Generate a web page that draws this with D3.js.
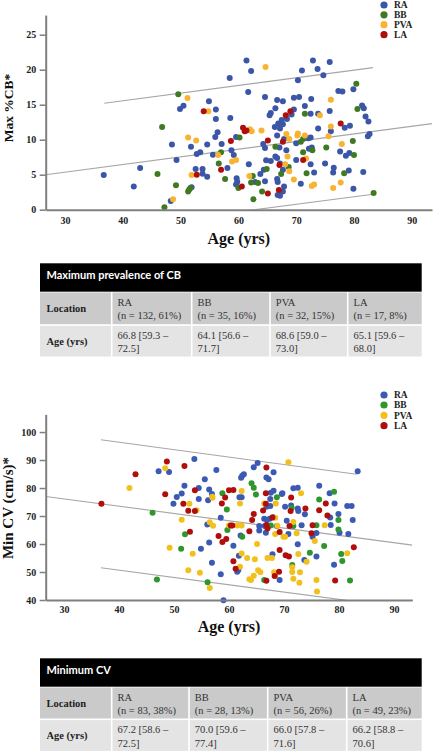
<!DOCTYPE html>
<html><head><meta charset="utf-8">
<script src="https://cdn.jsdelivr.net/npm/d3@7"></script>
<style>
html,body{margin:0;padding:0;background:#fff;}
svg{display:block;}
</style></head>
<body>
<svg id="c" width="433" height="753"></svg>
<script>
// ---------- DATA ----------
const seriesNames = ["RA", "BB", "PVA", "LA"];
const ageTicks = [30, 40, 50, 60, 70, 80, 90];
const cbTicks = [0, 5, 10, 15, 20, 25];
const cvTicks = [40, 50, 60, 70, 80, 90, 100];

// Max %CB* vs age  [age, value]
const cbRA = [[36.7,4.96],[41.9,3.3],[43.0,5.96],[48.3,1.24],[48.5,9.3],[49.3,7.1],[49.9,14.4],[50.5,14.86],[51.8,9.0],[51.9,3.2],[54.9,15.5],[56.1,14.3],[56.1,12.96],[56.4,11.06],[56.0,10.4],[54.6,9.3],[53.4,8.2],[52.8,7.96],[55.6,7.86],[52.6,5.8],[53.8,5.8],[53.8,5.14],[54.6,4.7],
[61.4,21.3],[62.2,19.8],[58.5,18.8],[61.7,16.8],[64.6,16.1],[66.7,15.67],[67.7,15.5],[66.4,14.5],[65.6,13.8],[65.4,13.5],[58.6,13.1],[67.5,12.8],[66.9,12.3],[66.3,11.8],[67.2,11.6],[67.7,12.2],[59.6,10.4],[57.1,9.4],[58.8,8.5],[64.3,9.4],[64.6,8.8],[66.7,10.6],[67.9,10.1],[59.2,7.8],[61.8,6.5],[58.1,5.96],[64.8,7.05],[65.6,6.96],[64.4,5.7],[63.8,5.1],[62.9,3.96],[64.6,4.05],[66.7,4.4],[66.8,3.96],[67.2,6.6],[66.4,7.6],[66.7,7.4],[59.7,4.5],[59.8,4.0],[59.6,3.6],[67.2,2.0],[67.7,2.6],
[72.9,21.3],[75.8,21.1],[71.0,19.9],[74.7,19.2],[70.3,18.5],[79.9,17.2],[77.3,16.96],[78.0,16.9],[69.6,16.0],[70.5,16.1],[72.6,15.8],[81.4,14.9],[81.7,14.5],[71.5,14.8],[72.5,13.7],[73.8,13.7],[75.8,14.1],[82.0,13.3],[82.5,12.6],[69.2,13.6],[69.6,14.3],[79.3,12.0],[78.4,11.7],[73.8,11.6],[76.0,11.2],[82.7,10.8],[82.4,10.5],[72.5,10.3],[72.1,10.2],[70.0,9.5],[72.7,8.9],[72.2,8.7],[77.6,8.3],[79.2,8.1],[78.6,7.7],[68.3,8.5],[70.0,7.1],[72.5,6.5],[75.0,6.6],[76.5,6.0],[73.1,5.3],[76.4,5.3],[79.1,5.6],[81.6,5.4],[70.8,3.7],[79.9,3.0],[73.7,20.1],
[67.1,8.9],[67.7,5.7],[67.9,3.3],[66.8,2.1],[68.4,12.96]];
const cbBB = [[49.6,16.5],[46.8,11.8],[46.0,5.1],[49.2,3.5],[51.3,2.6],[51.5,2.9],[51.7,3.1],[47.2,0.34],[56.6,6.6],[60.2,10.3],[57.0,8.2],[66.4,9.0],[64.9,5.8],[62.5,4.8],[63.4,3.8],[57.7,4.4],[60.0,3.1],[64.1,2.6],[62.6,1.5],[80.4,18.0],[80.6,14.4],[71.5,13.7],[71.2,10.1],[70.8,9.7],[79.8,9.8],[75.2,8.9],[72.8,8.5],[71.2,8.2],[80.0,7.8],[68.7,6.1],[67.4,5.1],[71.8,5.2],[78.3,5.2],[83.4,2.4],[62.2,3.9]];
const cbPVA = [[51.2,15.96],[51.3,10.3],[52.7,9.9],[48.7,1.5],[54.8,14.05],[56.5,7.8],[51.9,4.96],[64.7,20.4],[62.0,11.5],[62.3,11.2],[64.0,11.3],[58.9,6.9],[59.6,7.1],[61.9,4.8],[76.0,15.7],[74.1,13.5],[76.0,11.9],[68.3,10.8],[70.3,10.9],[70.2,10.6],[71.5,10.6],[68.8,10.1],[75.6,10.5],[77.9,9.4],[68.5,7.6],[71.7,7.3],[68.1,6.5],[68.8,5.5],[69.6,4.3],[72.7,3.4],[73.1,3.6],[77.7,3.9],[76.4,3.1]];
const cbLA = [[54.0,14.05],[52.8,5.0],[57.0,5.7],[60.8,11.7],[61.1,11.2],[61.4,11.3],[65.1,9.9],[68.2,13.5],[69.0,14.05],[67.1,6.4],[60.6,3.3],[65.1,2.3],[77.7,12.3],[71.2,7.1],[67.7,9.7],[67.0,2.8],[58.7,9.8]];
// regression line and prediction bounds [age, value] end points
const cbFitLines = [[[36.8,15.2],[83.3,20.3]], [[26.66,5.0],[93.5,12.3]], [[36.8,-2.8],[83.3,2.2]]];

// Min CV vs age
const cvRA = [[47.2,86.0],[49.1,85.7],[49.9,74.4],[50.5,76.8],[51.4,78.0],[51.9,80.8],[53.7,90.4],[54.5,80.0],[55.6,83.1],[54.5,76.1],[54.9,58.3],[56.4,79.5],[56.2,75.6],[56.9,77.9],[57.7,86.4],[56.05,67.0],[56.4,60.5],[56.9,53.3],[65.2,88.9],[64.5,87.4],[62.7,84.9],[62.4,84.4],[62.2,83.7],[68.1,85.6],[66.8,83.8],[67.2,83.1],[61.9,76.7],[62.3,76.7],[67.6,78.3],[68.1,79.0],[67.5,76.1],[66.8,73.3],[67.5,73.6],[66.4,69.0],[66.9,68.6],[67.4,69.0],[68.0,69.6],[58.5,69.4],[65.5,66.4],[66.5,66.4],[66.7,64.0],[65.5,64.8],[62.1,63.0],[60.8,59.4],[61.8,55.8],[67.9,56.3],[61.5,50.1],[61.7,50.7],[58.5,49.2],[69.2,47.1],[59.0,39.9],[83.4,85.95],[76.4,80.8],[71.7,79.9],[72.5,80.1],[78.3,78.1],[69.7,78.1],[79.2,74.5],[81.5,73.6],[82.3,73.6],[71.3,73.8],[70.2,73.3],[72.5,72.7],[72.6,71.8],[73.8,70.6],[78.4,69.5],[79.9,70.7],[82.5,68.6],[70.5,68.3],[73.2,66.7],[78.5,66.8],[68.7,66.4],[70.8,63.6],[75.2,62.6],[75.9,63.9],[80.1,64.0],[81.7,63.6],[72.5,59.9],[75.9,55.5],[73.7,54.3],[79.1,52.6],[69.6,77.9]];
const cvBB = [[46.1,71.2],[46.9,47.3],[52.0,63.5],[51.3,58.3],[56.1,46.3],[58.8,78.1],[64.1,81.7],[64.5,80.1],[64.9,77.7],[59.6,72.3],[59.7,65.0],[66.4,47.1],[79.1,78.7],[68.7,76.7],[76.4,75.9],[79.9,68.6],[71.7,66.4],[75.9,66.7],[79.9,65.2],[77.3,59.3],[74.7,56.9],[80.4,56.4],[80.6,53.9],[71.5,52.5],[82.0,47.0],[71.4,72.9],[67.6,66.6],[62.4,62.6]];
const cvPVA = [[41.9,80.0],[48.4,87.1],[51.4,68.7],[52.8,74.4],[54.1,72.1],[49.2,58.7],[53.4,56.5],[52.6,50.6],[54.7,49.75],[56.5,44.3],[56.95,76.9],[56.5,67.75],[57.1,66.5],[62.3,78.9],[62.0,74.5],[66.4,74.5],[68.5,74.5],[68.4,69.4],[68.8,66.5],[60.0,66.6],[61.5,66.6],[62.3,66.6],[68.4,63.6],[65.1,60.0],[62.3,56.6],[63.3,55.0],[64.7,54.6],[67.0,55.0],[67.8,55.0],[62.0,51.9],[64.5,48.7],[65.3,50.6],[65.7,49.9],[64.0,47.1],[68.2,49.9],[70.8,89.2],[73.1,78.1],[71.7,67.9],[77.4,66.7],[69.9,62.6],[70.2,62.6],[72.3,63.8],[75.6,61.1],[72.6,56.4],[81.5,56.7],[74.1,53.7],[71.5,51.7],[71.5,50.0],[72.9,49.9],[71.7,47.6],[72.8,46.2],[75.9,47.1],[76.0,43.0],[57.0,76.5],[63.7,47.4],[68.4,48.7]];
const cvLA = [[36.8,74.4],[43.0,84.9],[48.4,77.8],[48.7,89.5],[51.9,87.9],[51.7,74.4],[52.6,71.9],[53.8,71.8],[53.8,79.2],[52.9,64.4],[58.1,62.9],[66.8,87.3],[59.3,76.6],[60.0,79.2],[60.8,79.3],[66.7,78.1],[58.7,74.5],[64.5,70.7],[66.2,72.0],[64.2,68.6],[67.9,69.5],[66.8,66.8],[67.0,65.5],[60.3,66.6],[60.6,66.6],[63.7,64.6],[58.8,60.7],[59.5,61.8],[69.2,57.9],[60.8,53.8],[61.2,51.2],[66.8,46.9],[71.3,76.6],[77.6,74.5],[71.2,71.8],[73.9,72.7],[76.4,72.1],[77.9,70.2],[71.0,66.4],[75.2,66.7],[75.0,63.8],[82.7,58.8],[70.3,56.0],[70.9,55.5],[69.1,50.1],[79.3,47.0],[68.3,48.6],[66.7,74.4],[69.2,64.3]];
const cvFitLines = [[[36.7,97.25],[83.2,84.9]], [[26.67,77.0],[93.33,59.6]], [[36.7,51.5],[83.2,39.4]]];

// Tables
const rowLabels = ["Location", "Age (yrs)"];
const table1Title = "Maximum prevalence of CB";
const table1Counts = ["(n = 132, 61%)", "(n = 35, 16%)", "(n = 32, 15%)", "(n = 17, 8%)"];
const table1Ages = [["66.8 [59.3 –", "72.5]"], ["64.1 [56.6 –", "71.7]"], ["68.6 [59.0 –", "73.0]"], ["65.1 [59.6 –", "68.0]"]];
const table2Title = "Minimum CV";
const table2Counts = ["(n = 83, 38%)", "(n = 28, 13%)", "(n = 56, 26%)", "(n = 49, 23%)"];
const table2Ages = [["67.2 [58.6 –", "72.5]"], ["70.0 [59.6 –", "77.4]"], ["66.0 [57.8 –", "71.6]"], ["66.2 [58.8 –", "70.6]"]];

// ---------- DRAWING ----------
const svg = d3.select("#c");
const SERIF = "'Liberation Serif','Times New Roman',serif";
const SANS = "Lato,'Open Sans',sans-serif";

function scatter(cfg) {
  const g = svg.append("g");
  const x = d3.scaleLinear().domain(cfg.xDomain).range(cfg.xRange);
  const y = d3.scaleLinear().domain(cfg.yDomain).range(cfg.yRange);
  const clipId = "clip" + cfg.id;
  svg.append("defs").append("clipPath").attr("id", clipId)
    .append("rect").attr("x", cfg.xRange[0]).attr("y", cfg.yRange[1])
    .attr("width", cfg.xRange[1] - cfg.xRange[0]).attr("height", cfg.yRange[0] - cfg.yRange[1]);

  // fit lines
  const line = d3.line().x(d => x(d[0])).y(d => y(d[1]));
  g.append("g").attr("clip-path", `url(#${clipId})`).selectAll("path").data(cfg.lines).join("path")
    .attr("d", line).attr("fill", "none").attr("stroke", "#a6a6a6").attr("stroke-width", 1.1);

  // points
  cfg.series.forEach((s, i) => {
    g.append("g").selectAll("circle").data(s).join("circle")
      .attr("cx", d => x(d[0])).attr("cy", d => y(d[1])).attr("r", 3)
      .attr("fill", cfg.colors[i]);
  });

  // axes
  const ya = g.append("g").attr("transform", `translate(${cfg.xRange[0]},0)`)
    .call(d3.axisLeft(y).tickValues(cfg.yTicks).tickSize(6).tickSizeOuter(0).tickPadding(3.5));
  const xa = g.append("g").attr("transform", `translate(0,${cfg.yRange[0]})`)
    .call(d3.axisBottom(x).tickValues(ageTicks).tickSize(0).tickSizeOuter(0).tickPadding(cfg.xPad));
  [ya, xa].forEach(a => {
    a.select(".domain").attr("stroke", "#7f7f7f").attr("stroke-width", 2);
    a.selectAll(".tick line").attr("stroke", "#7f7f7f").attr("stroke-width", 1.5);
    a.selectAll("text").attr("font-family", SERIF).attr("font-weight", "bold")
      .attr("font-size", 10).attr("fill", "#222");
  });

  // titles
  g.append("text").attr("x", (cfg.xRange[0] + cfg.xRange[1]) / 2).attr("y", cfg.xTitleY)
    .attr("text-anchor", "middle").attr("font-family", SERIF).attr("font-weight", "bold")
    .attr("font-size", 16).attr("fill", "#111").text("Age (yrs)");
  g.append("text").attr("transform", `translate(${cfg.yTitleX},${cfg.yTitleMid}) rotate(-90)`)
    .attr("text-anchor", "middle").attr("font-family", SERIF).attr("font-weight", "bold")
    .attr("font-size", cfg.yTitleSize).attr("fill", "#111").text(cfg.yTitle);

  // legend
  const lg = g.append("g");
  seriesNames.forEach((n, i) => {
    const ly = cfg.legendY[i];
    lg.append("circle").attr("cx", 384).attr("cy", ly).attr("r", 3.6).attr("fill", cfg.colors[i]);
    lg.append("text").attr("x", 394).attr("y", ly + 3.2).attr("font-family", SERIF)
      .attr("font-weight", "bold").attr("font-size", 9.5).attr("fill", "#222").text(n);
  });
}

scatter({
  id: "cb", xDomain: [26.66, 93.5], xRange: [45.7, 432],
  yDomain: [0, 27.8], yRange: [209.7, 15.1], yTicks: cbTicks, xPad: 7.5,
  series: [cbRA, cbBB, cbPVA, cbLA],
  colors: ["#3b56a6", "#3f7a22", "#f8b332", "#b00d0d"],
  lines: cbFitLines,
  xTitleY: 243.5, yTitleX: 12.5, yTitleMid: 108, yTitleSize: 13.5, yTitle: "Max %CB*",
  legendY: [5, 14.8, 24.7, 34.7]
});

scatter({
  id: "cv", xDomain: [26.67, 93.33], xRange: [45.7, 412.3],
  yDomain: [40, 106.3], yRange: [600, 414.4], yTicks: cvTicks, xPad: 5.8,
  series: [cvRA, cvBB, cvPVA, cvLA],
  colors: ["#3b5ab4", "#2e962c", "#f1c01c", "#b00d0d"],
  lines: cvFitLines,
  xTitleY: 632, yTitleX: 13, yTitleMid: 508, yTitleSize: 15, yTitle: "Min CV (cm/s)*",
  legendY: [395, 405, 415.3, 425.7]
});

function table(cfg) {
  const g = svg.append("g");
  const c = cfg.cols;
  g.append("rect").attr("x", c[0]).attr("y", cfg.hTop).attr("width", c[5] - c[0])
    .attr("height", cfg.r1Top - cfg.hTop).attr("fill", "#000");
  g.append("text").attr("x", c[0] + 6.5).attr("y", cfg.hTop + 15.5).attr("font-family", SANS)
    .attr("font-weight", "bold").attr("font-size", 11).attr("fill", "#fff").text(cfg.title);
  const rows = [[cfg.r1Top, cfg.r2Top, "#cacaca"], [cfg.r2Top, cfg.bottom, "#e4e4e4"]];
  rows.forEach((r, ri) => {
    for (let k = 0; k < 5; k++) {
      g.append("rect").attr("x", c[k] + (k ? 0.8 : 0)).attr("y", r[0] + 0.8)
        .attr("width", c[k + 1] - c[k] - (k ? 0.8 : 0) - (k < 4 ? 0.8 : 0))
        .attr("height", r[1] - r[0] - 1.6).attr("fill", r[2]);
    }
    const mid = (r[0] + r[1]) / 2;
    g.append("text").attr("x", c[0] + 6.5).attr("y", mid + 3.5).attr("font-family", SERIF)
      .attr("font-weight", "bold").attr("font-size", 10.5).attr("fill", "#222").text(rowLabels[ri]);
  });
  for (let k = 0; k < 4; k++) {
    const lines1 = [seriesNames[k], cfg.counts[k]];
    const lines2 = cfg.ages[k];
    [[lines1, cfg.r1Top], [lines2, cfg.r2Top]].forEach(([ls, top]) => {
      ls.forEach((t, li) => {
        g.append("text").attr("x", c[k + 1] + 5.8).attr("y", top + 13.8 + li * 13.6)
          .attr("font-family", SERIF).attr("font-size", 10.5).attr("fill", "#333").text(t);
      });
    });
  }
}

table({ cols: [40, 111.7, 191.7, 270, 347.7, 421.7], hTop: 263.3, r1Top: 291.7, r2Top: 325, bottom: 357.3,
  title: table1Title, counts: table1Counts, ages: table1Ages });
table({ cols: [40, 111.7, 189, 267.7, 346.7, 421.7], hTop: 658.3, r1Top: 686.7, r2Top: 719.3, bottom: 751.7,
  title: table2Title, counts: table2Counts, ages: table2Ages });
</script>
</body></html>
